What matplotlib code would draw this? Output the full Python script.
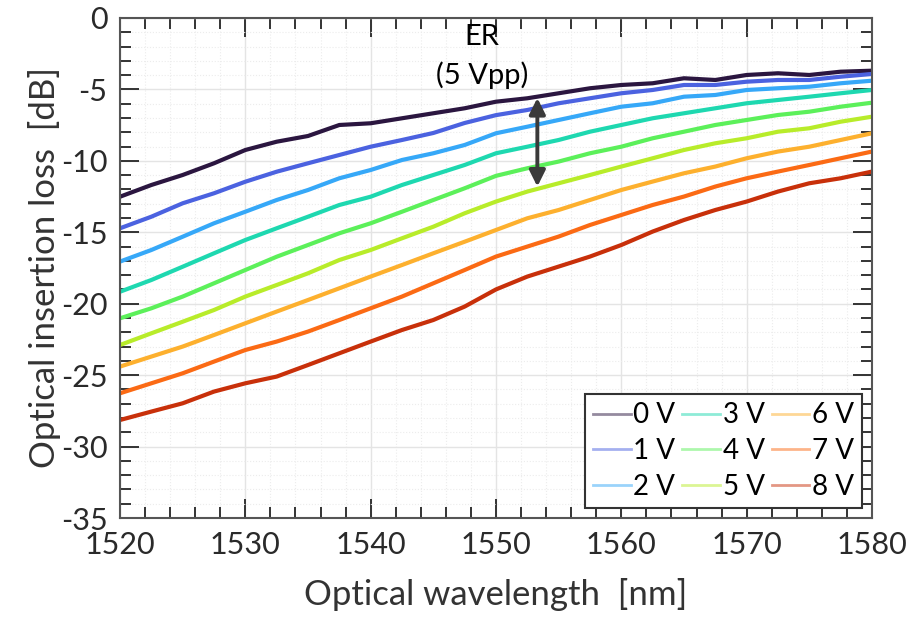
import matplotlib
matplotlib.use("Agg")
import matplotlib.pyplot as plt
from matplotlib.ticker import MultipleLocator

plt.rcParams['font.family'] = ['Lato', 'DejaVu Sans']
plt.rcParams['axes.unicode_minus'] = False

# wavelength sample points [nm] and insertion loss [dB]
wavelength = [1520, 1522.5, 1525, 1527.5, 1530, 1532.5, 1535, 1537.5, 1540,
              1542.5, 1545, 1547.5, 1550, 1552.5, 1555, 1557.5, 1560, 1562.5,
              1565, 1567.5, 1570, 1572.5, 1575, 1577.5, 1580]
loss_0v = [-12.51, -11.69, -10.99, -10.17, -9.24, -8.66, -8.26, -7.49, -7.37,
           -7.02, -6.67, -6.32, -5.86, -5.62, -5.27, -4.92, -4.69, -4.57,
           -4.22, -4.34, -3.99, -3.87, -3.99, -3.76, -3.69]
loss_1v = [-14.72, -13.91, -12.97, -12.27, -11.46, -10.76, -10.17, -9.59, -9.01,
           -8.54, -8.05, -7.35, -6.80, -6.44, -5.97, -5.62, -5.27, -5.04,
           -4.69, -4.69, -4.46, -4.34, -4.34, -4.11, -3.92]
loss_2v = [-17.05, -16.24, -15.31, -14.37, -13.56, -12.74, -12.04, -11.22, -10.64,
           -9.94, -9.47, -8.89, -8.07, -7.61, -7.14, -6.67, -6.21, -5.97,
           -5.51, -5.39, -5.04, -4.92, -4.81, -4.57, -4.39]
loss_3v = [-19.16, -18.34, -17.41, -16.47, -15.54, -14.72, -13.91, -13.09, -12.51,
           -11.69, -10.99, -10.29, -9.47, -9.01, -8.54, -7.96, -7.49, -7.02,
           -6.67, -6.32, -5.97, -5.74, -5.51, -5.27, -5.04]
loss_4v = [-21.02, -20.32, -19.50, -18.57, -17.64, -16.71, -15.89, -15.07, -14.37,
           -13.56, -12.74, -11.92, -11.05, -10.52, -10.05, -9.47, -9.01, -8.42,
           -7.96, -7.49, -7.14, -6.79, -6.56, -6.21, -5.93]
loss_5v = [-22.89, -22.07, -21.26, -20.44, -19.50, -18.69, -17.87, -16.94, -16.24,
           -15.42, -14.61, -13.67, -12.85, -12.15, -11.57, -10.99, -10.40, -9.82,
           -9.24, -8.77, -8.42, -7.96, -7.72, -7.26, -6.91]
loss_6v = [-24.40, -23.70, -23.00, -22.19, -21.37, -20.55, -19.74, -18.92, -18.10,
           -17.29, -16.47, -15.66, -14.84, -14.02, -13.44, -12.74, -12.04, -11.45,
           -10.87, -10.40, -9.82, -9.35, -9.01, -8.54, -8.07]
loss_7v = [-26.27, -25.57, -24.87, -24.05, -23.24, -22.65, -21.95, -21.14, -20.32,
           -19.50, -18.57, -17.64, -16.70, -16.00, -15.30, -14.49, -13.79, -13.09,
           -12.50, -11.80, -11.22, -10.75, -10.29, -9.82, -9.35]
loss_8v = [-28.14, -27.55, -26.97, -26.15, -25.57, -25.10, -24.29, -23.47, -22.65,
           -21.84, -21.14, -20.20, -19.00, -18.10, -17.40, -16.70, -15.89, -14.95,
           -14.14, -13.44, -12.85, -12.15, -11.57, -11.22, -10.75]

labels = ['0 V', '1 V', '2 V', '3 V', '4 V', '5 V', '6 V', '7 V', '8 V']
series = [loss_0v, loss_1v, loss_2v, loss_3v, loss_4v,
          loss_5v, loss_6v, loss_7v, loss_8v]
colors = ['#2b1640', '#4b62e0', '#36a8f8', '#1ed8b0', '#5cf05a',
          '#b8ec2a', '#fdb02e', '#fb6a14', '#c8300a']

# extinction ratio arrow (5 Vpp)
er_wavelength = 1553.3
er_top = -5.6
er_bottom = -11.8

fig = plt.figure(figsize=(9.1, 6.2), dpi=100)
ax = fig.add_axes([0.1319, 0.1645, 0.8263, 0.8065])

for y, lab, c in zip(series, labels, colors):
    ax.plot(wavelength, y, color=c, lw=3.0, label=lab)

ax.annotate('', xy=(er_wavelength, er_top), xytext=(er_wavelength, er_bottom),
            arrowprops=dict(arrowstyle='<|-|>', color='#3a3a3a', lw=2.8,
                            mutation_scale=24, shrinkA=0, shrinkB=0))
ax.text(1548.9, -1.3, 'ER', ha='center', va='center', fontsize=21)
ax.text(1548.9, -4.0, '(5 Vpp)', ha='center', va='center', fontsize=21)

ax.set_xlim(1520, 1580)
ax.set_ylim(-35, 0)
ax.xaxis.set_major_locator(MultipleLocator(10))
ax.xaxis.set_minor_locator(MultipleLocator(2))
ax.yaxis.set_major_locator(MultipleLocator(5))
ax.yaxis.set_minor_locator(MultipleLocator(1))
ax.tick_params(which='both', direction='in', top=True, right=True,
               color='#333333', width=1.4, labelsize=22, labelcolor='#2a2a2a')
ax.tick_params(which='major', length=14, pad=9)
ax.tick_params(which='minor', length=8)
for s in ax.spines.values():
    s.set_color('#555555')
    s.set_linewidth(1.5)

ax.grid(which='major', color='#e4e4e4', lw=1.0)
ax.grid(which='minor', color='#ececec', lw=0.8, ls=':')
ax.set_axisbelow(True)

ax.set_xlabel('Optical wavelength  [nm]', fontsize=25, color='#333333', labelpad=14)
ax.set_ylabel('Optical insertion loss  [dB]', fontsize=25, color='#333333', labelpad=0)

leg = ax.legend(ncol=3, loc='lower right', bbox_to_anchor=(0.987, 0.02),
                fontsize=20, frameon=True, fancybox=False, framealpha=1,
                edgecolor='#333333', handlelength=1.35, handletextpad=0.1,
                columnspacing=0.25, labelspacing=0.35, borderpad=0.3,
                borderaxespad=0)
leg.get_frame().set_linewidth(1.5)
for h in leg.get_lines():
    h.set_alpha(0.5)
    h.set_linewidth(2)

fig.savefig('out.png', dpi=100)
